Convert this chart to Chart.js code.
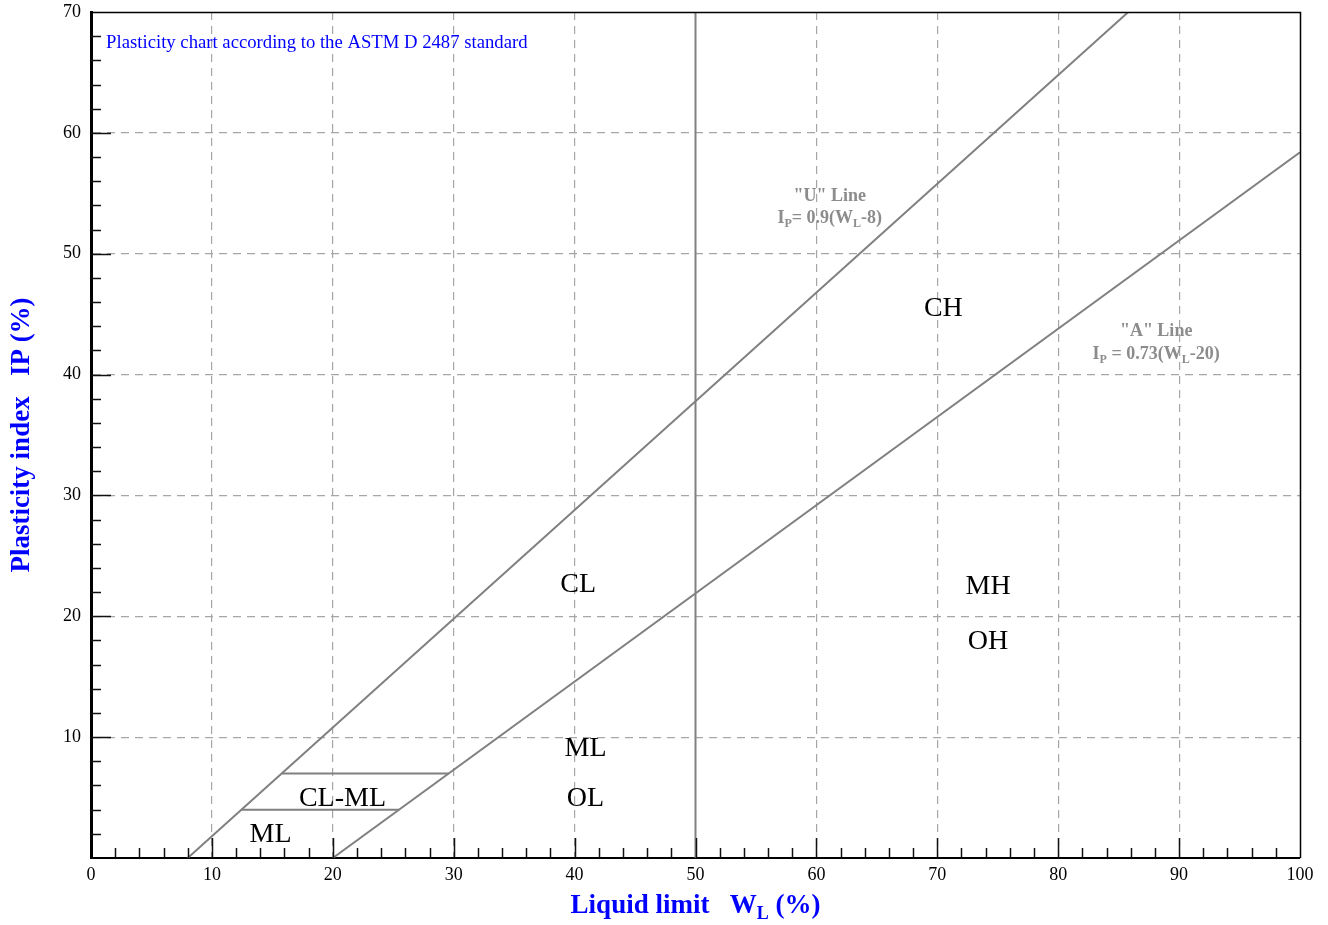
<!DOCTYPE html>
<html><head><meta charset="utf-8">
<script src="https://cdn.jsdelivr.net/npm/chart.js@4.4.1/dist/chart.umd.min.js"></script>
<style>html,body{margin:0;padding:0;background:#fff;}#wrap{width:1328px;height:925px;position:relative;}</style>
</head><body><div id="wrap"><canvas id="c" width="1328" height="925"></canvas></div>
<script>
// ---- data ----
const uLine = [[8, 0], [85.8, 70]];           // "U" line  IP = 0.9(WL-8)
const aLine = [[20, 0], [100, 58.4]];         // "A" line  IP = 0.73(WL-20)
const clmlTop = [[15.8, 7], [29.6, 7]];
const clmlBottom = [[12.4, 4], [25.5, 4]];
const wl50 = [[50, 0], [50, 70]];
const xTickValues = [0, 10, 20, 30, 40, 50, 60, 70, 80, 90, 100];
const yTickValues = [10, 20, 30, 40, 50, 60, 70];
const zoneNames = ['CL', 'CH', 'MH', 'OH', 'ML', 'OL', 'CL-ML', 'ML'];
const zoneX = [40.3, 70.5, 74.2, 74.2, 40.9, 40.9, 20.8, 14.85];
const zoneY = [22.0, 44.85, 21.85, 17.3, 8.4, 4.3, 4.3, 1.3];
const noteText = 'Plasticity chart according to the ASTM D 2487 standard';
const xTitle = [['Liquid limit   W', false], ['L', true], [' (%)', false]];
const yTitle = [['Plasticity index   IP (%)', false]];
const uLabel1 = [['"U" Line', false]];
const uLabel2 = [['I', false], ['P', true], ['= 0.9(W', false], ['L', true], ['-8)', false]];
const aLabel1 = [['"A" Line', false]];
const aLabel2 = [['I', false], ['P', true], [' = 0.73(W', false], ['L', true], ['-20)', false]];
const uLabelPos = [61.1, 54.75, 52.95];
const aLabelPos = [88.1, 43.55, 41.65];

const SERIF = '"Liberation Serif","Times New Roman",serif';
const toXY = arr => arr.map(p => ({x: p[0], y: p[1]}));

function richWidth(ctx, parts, size, bold) {
  let w = 0;
  for (const [t, sub] of parts) {
    ctx.font = (bold ? 'bold ' : '') + (sub ? Math.round(size * 0.65) : size) + 'px ' + SERIF;
    w += ctx.measureText(t).width;
  }
  return w;
}
function drawRich(ctx, parts, x, y, size, bold, color, align) {
  ctx.fillStyle = color;
  ctx.textBaseline = 'middle';
  ctx.textAlign = 'left';
  let cx = x;
  const w = richWidth(ctx, parts, size, bold);
  if (align === 'center') cx = x - w / 2;
  for (const [t, sub] of parts) {
    ctx.font = (bold ? 'bold ' : '') + (sub ? Math.round(size * 0.65) : size) + 'px ' + SERIF;
    ctx.fillText(t, cx, sub ? y + size * 0.3 : y);
    cx += ctx.measureText(t).width;
  }
}

const deco = {
  id: 'deco',
  afterDraw(chart) {
    const {ctx, chartArea: a, scales: {x, y}} = chart;
    ctx.save();
    // inward ticks
    ctx.strokeStyle = '#111';
    ctx.lineWidth = 1.5;
    ctx.beginPath();
    for (let v = 2; v < 100; v += 2) {
      const px = Math.round(x.getPixelForValue(v)) + 0.5;
      const len = v % 10 === 0 ? 20 : 10;
      ctx.moveTo(px, a.bottom); ctx.lineTo(px, a.bottom - len);
    }
    for (let v = 2; v < 70; v += 2) {
      const py = Math.round(y.getPixelForValue(v)) + 0.5;
      const len = v % 10 === 0 ? 20 : 10;
      ctx.moveTo(a.left, py); ctx.lineTo(a.left + len, py);
    }
    ctx.stroke();
    // frame top / right
    ctx.strokeStyle = '#000';
    ctx.lineWidth = 1.5;
    ctx.beginPath();
    ctx.moveTo(a.left, a.top + 0.5); ctx.lineTo(a.right + 0.5, a.top + 0.5);
    ctx.lineTo(a.right + 0.5, a.bottom);
    ctx.stroke();

    // zone labels
    ctx.fillStyle = '#000';
    ctx.font = '28px ' + SERIF;
    ctx.textAlign = 'center';
    ctx.textBaseline = 'alphabetic';
    zoneNames.forEach((n, i) => ctx.fillText(n, x.getPixelForValue(zoneX[i]), y.getPixelForValue(zoneY[i])));

    // note
    ctx.fillStyle = '#0000ff';
    ctx.font = '18.7px ' + SERIF;
    ctx.textAlign = 'left';
    ctx.textBaseline = 'middle';
    ctx.fillText(noteText, x.getPixelForValue(1.25), y.getPixelForValue(67.4));

    // line labels
    const g = '#8c8c8c';
    drawRich(ctx, uLabel1, x.getPixelForValue(uLabelPos[0]), y.getPixelForValue(uLabelPos[1]), 18, true, g, 'center');
    drawRich(ctx, uLabel2, x.getPixelForValue(uLabelPos[0]), y.getPixelForValue(uLabelPos[2]), 18, true, g, 'center');
    drawRich(ctx, aLabel1, x.getPixelForValue(aLabelPos[0]), y.getPixelForValue(aLabelPos[1]), 18, true, g, 'center');
    drawRich(ctx, aLabel2, x.getPixelForValue(aLabelPos[0]), y.getPixelForValue(aLabelPos[2]), 18, true, g, 'center');

    // axis titles
    drawRich(ctx, xTitle, (a.left + a.right) / 2, a.bottom + 48, 27, true, '#0000ff', 'center');
    ctx.save();
    ctx.translate(22, (a.top + a.bottom) / 2);
    ctx.rotate(-Math.PI / 2);
    drawRich(ctx, yTitle, 0, 0, 27, true, '#0000ff', 'center');
    ctx.restore();
    ctx.restore();
  }
};

const lineDs = (d) => ({data: toXY(d), showLine: true, borderColor: '#808080', borderWidth: 2, pointRadius: 0, fill: false, tension: 0});

new Chart(document.getElementById('c'), {
  type: 'scatter',
  data: {datasets: [lineDs(uLine), lineDs(aLine), lineDs(clmlTop), lineDs(clmlBottom), lineDs(wl50)]},
  options: {
    responsive: false,
    animation: false,
    events: [],
    layout: {padding: {top: 12, right: 28, left: 0, bottom: 0}},
    plugins: {legend: {display: false}, tooltip: {enabled: false}},
    scales: {
      x: {
        type: 'linear', min: 0, max: 100,
        afterBuildTicks: s => { s.ticks = xTickValues.map(v => ({value: v})); },
        afterFit: s => { s.height = 67; s.paddingLeft = 0; s.paddingRight = 0; },
        grid: {
          drawTicks: false,
          lineWidth: 1.2,
          color: c => (c.tick && (c.tick.value === 0 || c.tick.value === 100 || c.tick.value === 50)) ? 'rgba(0,0,0,0)' : '#a6a6a6'
        },
        border: {display: true, color: '#000', width: 2, dash: [8, 6]},
        ticks: {padding: 6, color: '#000', font: {family: SERIF, size: 18}, maxRotation: 0, autoSkip: false}
      },
      y: {
        type: 'linear', min: 0, max: 70,
        afterBuildTicks: s => { s.ticks = yTickValues.map(v => ({value: v})); },
        afterFit: s => { s.width = 91; s.paddingTop = 0; s.paddingBottom = 0; },
        grid: {
          drawTicks: false,
          lineWidth: 1.2,
          color: c => (c.tick && (c.tick.value === 0 || c.tick.value === 70)) ? 'rgba(0,0,0,0)' : '#a6a6a6'
        },
        border: {display: true, color: '#000', width: 3, dash: [8, 6]},
        ticks: {padding: 10, color: '#000', font: {family: SERIF, size: 18}, autoSkip: false}
      }
    }
  },
  plugins: [deco]
});
</script></body></html>
